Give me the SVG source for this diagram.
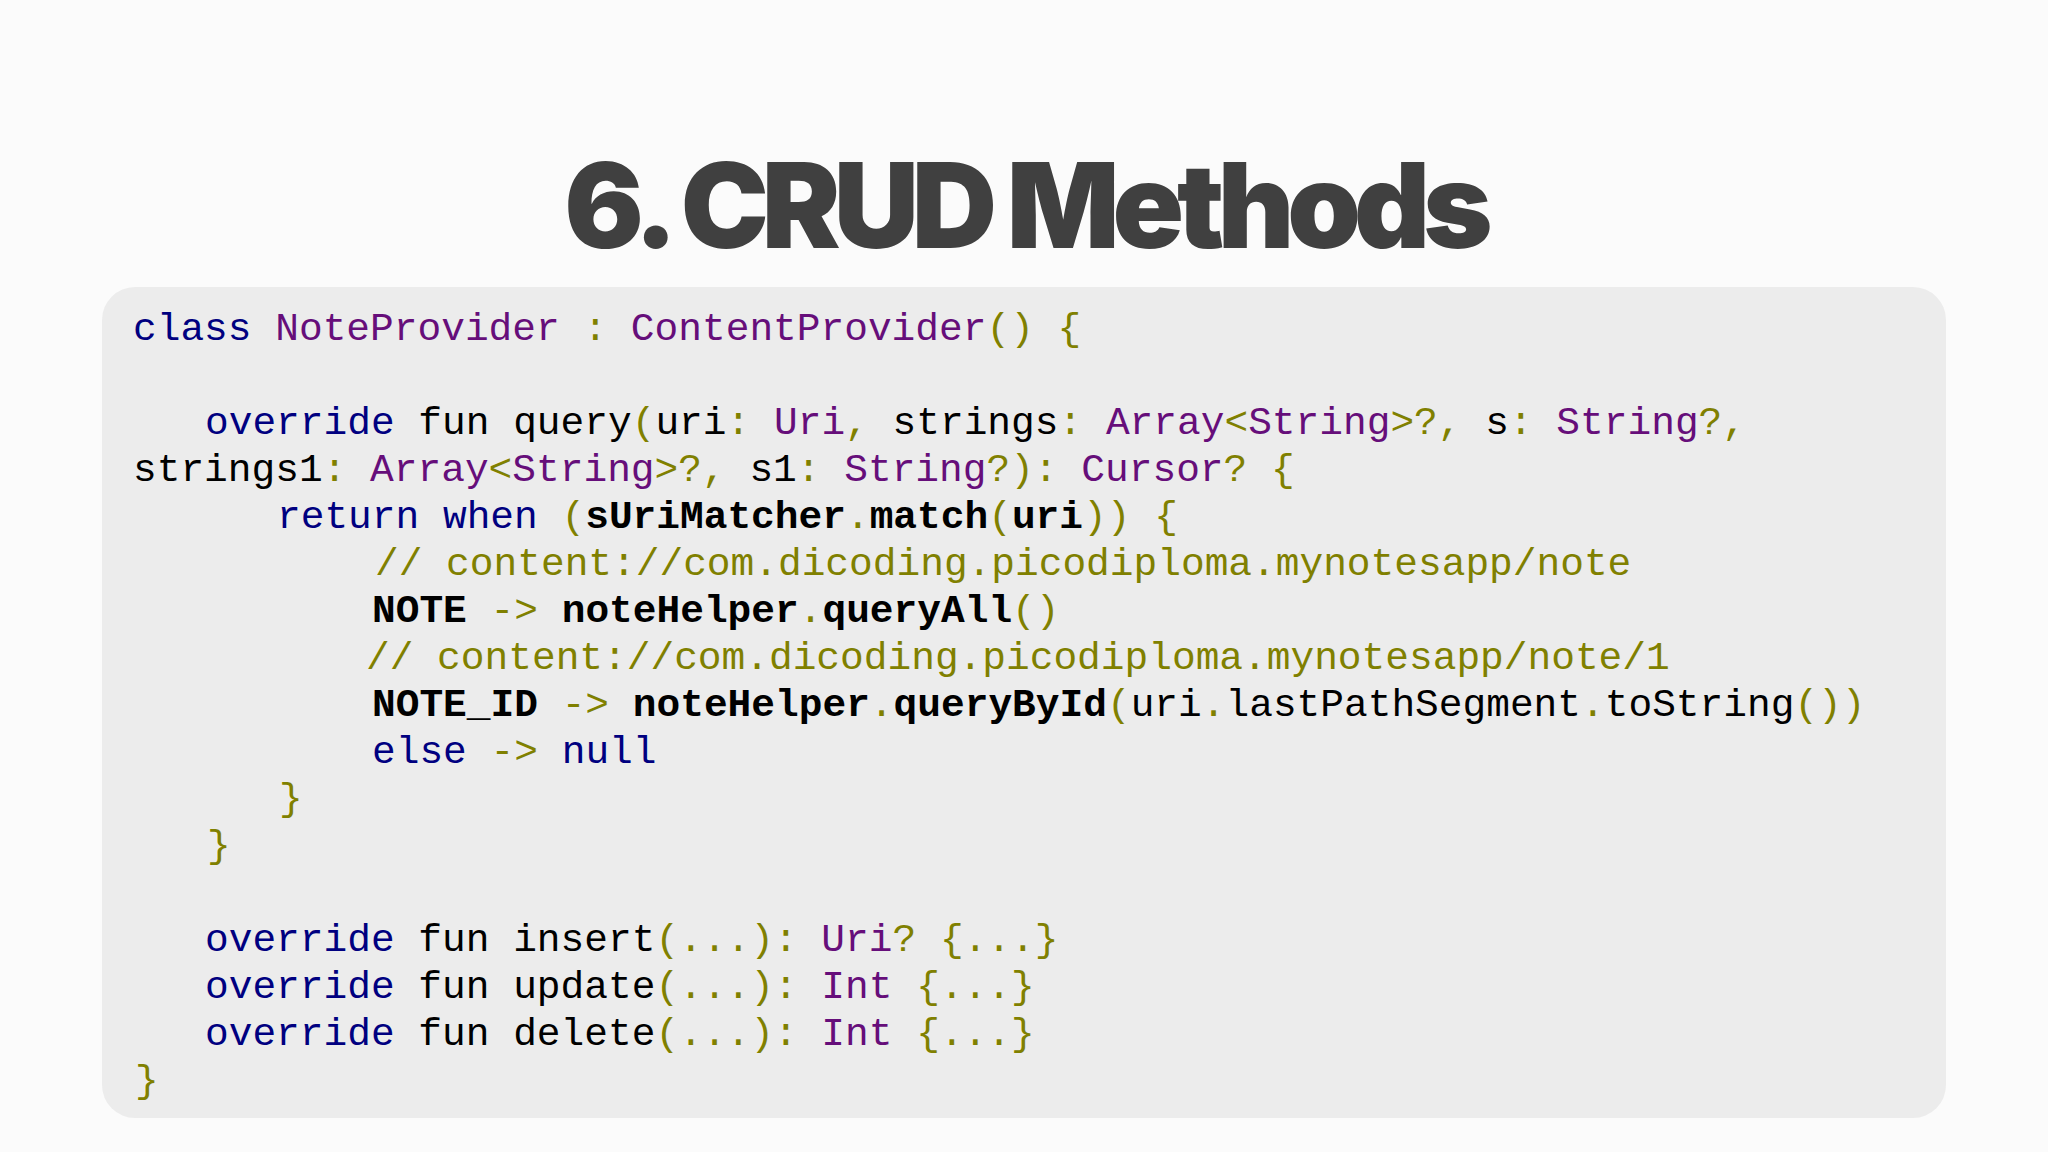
<svg xmlns="http://www.w3.org/2000/svg" width="2048" height="1152" viewBox="0 0 2048 1152">
<style>
.c{font-family:"Liberation Mono","DejaVu Sans Mono",monospace;font-size:39.5px;fill:#000;white-space:pre}
.k{fill:#000080}.t{fill:#660e7a}.o{fill:#808000}.b{font-weight:bold}
</style>
<rect width="2048" height="1152" fill="#fbfbfb"/>
<g id="title"><text x="1025" y="248" text-anchor="middle" font-family="Inter,Lato,'Liberation Sans',sans-serif" font-weight="900" font-size="118" letter-spacing="-7" fill="#404040">6. CRUD Methods</text></g>
<g id="codebox">
<rect x="102" y="287" width="1844" height="831" rx="33" fill="#ececec"/>
<text class="c" x="133" y="340"><tspan class="k">class</tspan> <tspan class="t">NoteProvider</tspan> <tspan class="o">:</tspan> <tspan class="t">ContentProvider</tspan><tspan class="o">() {</tspan></text>
<text class="c" x="205" y="434"><tspan class="k">override</tspan> fun query<tspan class="o">(</tspan>uri<tspan class="o">:</tspan> <tspan class="t">Uri</tspan><tspan class="o">,</tspan> strings<tspan class="o">:</tspan> <tspan class="t">Array</tspan><tspan class="o">&lt;</tspan><tspan class="t">String</tspan><tspan class="o">&gt;?,</tspan> s<tspan class="o">:</tspan> <tspan class="t">String</tspan><tspan class="o">?,</tspan></text>
<text class="c" x="133" y="481">strings1<tspan class="o">:</tspan> <tspan class="t">Array</tspan><tspan class="o">&lt;</tspan><tspan class="t">String</tspan><tspan class="o">&gt;?,</tspan> s1<tspan class="o">:</tspan> <tspan class="t">String</tspan><tspan class="o">?):</tspan> <tspan class="t">Cursor</tspan><tspan class="o">? {</tspan></text>
<text class="c" x="277" y="528"><tspan class="k">return when</tspan> <tspan class="o">(</tspan><tspan class="b">sUriMatcher</tspan><tspan class="o">.</tspan><tspan class="b">match</tspan><tspan class="o">(</tspan><tspan class="b">uri</tspan><tspan class="o">)) {</tspan></text>
<text class="c o" x="375" y="575">// content://com.dicoding.picodiploma.mynotesapp/note</text>
<text class="c" x="372" y="622"><tspan class="b">NOTE</tspan> <tspan class="o">-&gt;</tspan> <tspan class="b">noteHelper</tspan><tspan class="o">.</tspan><tspan class="b">queryAll</tspan><tspan class="o">()</tspan></text>
<text class="c o" x="366" y="669">// content://com.dicoding.picodiploma.mynotesapp/note/1</text>
<text class="c" x="372" y="716"><tspan class="b">NOTE_ID</tspan> <tspan class="o">-&gt;</tspan> <tspan class="b">noteHelper</tspan><tspan class="o">.</tspan><tspan class="b">queryById</tspan><tspan class="o">(</tspan>uri<tspan class="o">.</tspan>lastPathSegment<tspan class="o">.</tspan>toString<tspan class="o">())</tspan></text>
<text class="c" x="372" y="763"><tspan class="k">else</tspan> <tspan class="o">-&gt;</tspan> <tspan class="k">null</tspan></text>
<text class="c o" x="279" y="810">}</text>
<text class="c o" x="207" y="857">}</text>
<text class="c" x="205" y="951"><tspan class="k">override</tspan> fun insert<tspan class="o">(...):</tspan> <tspan class="t">Uri</tspan><tspan class="o">? {...}</tspan></text>
<text class="c" x="205" y="998"><tspan class="k">override</tspan> fun update<tspan class="o">(...):</tspan> <tspan class="t">Int</tspan> <tspan class="o">{...}</tspan></text>
<text class="c" x="205" y="1045"><tspan class="k">override</tspan> fun delete<tspan class="o">(...):</tspan> <tspan class="t">Int</tspan> <tspan class="o">{...}</tspan></text>
<text class="c o" x="135" y="1092">}</text>
</g>
</svg>
